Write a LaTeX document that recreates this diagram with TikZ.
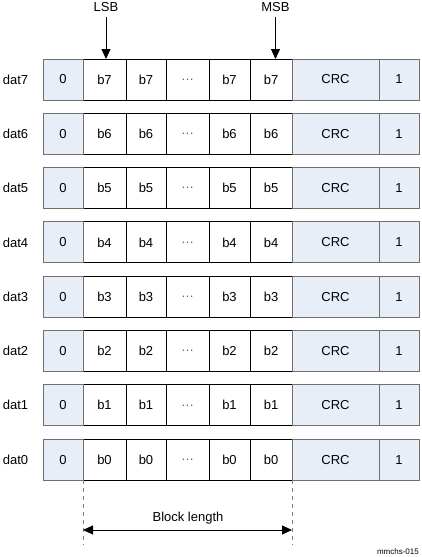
\documentclass[tikz,border=0pt]{standalone}
\usepackage{fontspec}
\setmainfont{Liberation Sans}
\usetikzlibrary{arrows.meta}
\definecolor{cellblue}{HTML}{E8EEF8}
\definecolor{edgegray}{HTML}{707070}
\definecolor{dashgray}{HTML}{808080}
\begin{document}
\begin{tikzpicture}[x=1pt,y=-1pt,
  txt/.style={font=\fontsize{13}{15}\selectfont, inner sep=0pt},
  cellbox/.style={txt, draw=black, line width=1pt, fill=white, outer sep=0pt, minimum height=41pt},
  bluebox/.style={cellbox, draw=edgegray, fill=cellblue},
  ptr/.style={line width=1pt, -{Triangle[width=9pt,length=10pt]}},
  span/.style={line width=1pt, {Triangle[width=9pt,length=10pt]}-{Triangle[width=9pt,length=10pt]}},
  guide/.style={dashgray, line width=1pt, dash pattern=on 4pt off 4pt}]
\useasboundingbox (0,0) rectangle (421,557);

\foreach \r [count=\i from 0] in {7,6,5,4,3,2,1,0} {
  \pgfmathsetmacro\yc{79.5+54.3*\i}
  \node[txt] (dat\r) at (15.5,\yc) {dat\r};
  \node[cellbox, minimum width=43pt] (a\r) at (104.5,\yc) {b\r};
  \node[cellbox, minimum width=40pt] (b\r) at (146,\yc) {b\r};
  \node[cellbox, minimum width=43pt] (d\r) at (187.5,\yc) {\textcolor{black!60}{\dots}};
  \node[cellbox, minimum width=41pt] (e\r) at (229.5,\yc) {b\r};
  \node[cellbox, minimum width=42pt] (f\r) at (271,\yc) {b\r};
  \node[bluebox, minimum width=40pt] (z\r) at (63,\yc) {0};
  \node[bluebox, minimum width=87pt] (crc\r) at (335.5,\yc) {CRC};
  \node[bluebox, minimum width=40pt] (one\r) at (399,\yc) {1};
}

\node[txt] (lsb) at (106,7.5) {LSB};
\node[txt] (msb) at (275.5,7.5) {MSB};
\coordinate (lsbs) at (106,17);
\coordinate (msbs) at (275.5,17);
\draw[ptr] (lsbs) -- (lsbs |- a7.north);
\draw[ptr] (msbs) -- (msbs |- f7.north);

\coordinate (gl) at (83,545);
\coordinate (gr) at (292,545);
\draw[guide] (a0.south west) -- (gl);
\draw[guide] (f0.south east) -- (gr);
\coordinate (bl) at (83,530);
\coordinate (br) at (292,530);
\draw[span] (bl) -- (br);
\node[txt] (blk) at (188,518) {Block length};
\node[font=\fontsize{8}{9}\selectfont, inner sep=0pt, anchor=east] (tag) at (419,552) {mmchs-015};
\end{tikzpicture}
\end{document}
